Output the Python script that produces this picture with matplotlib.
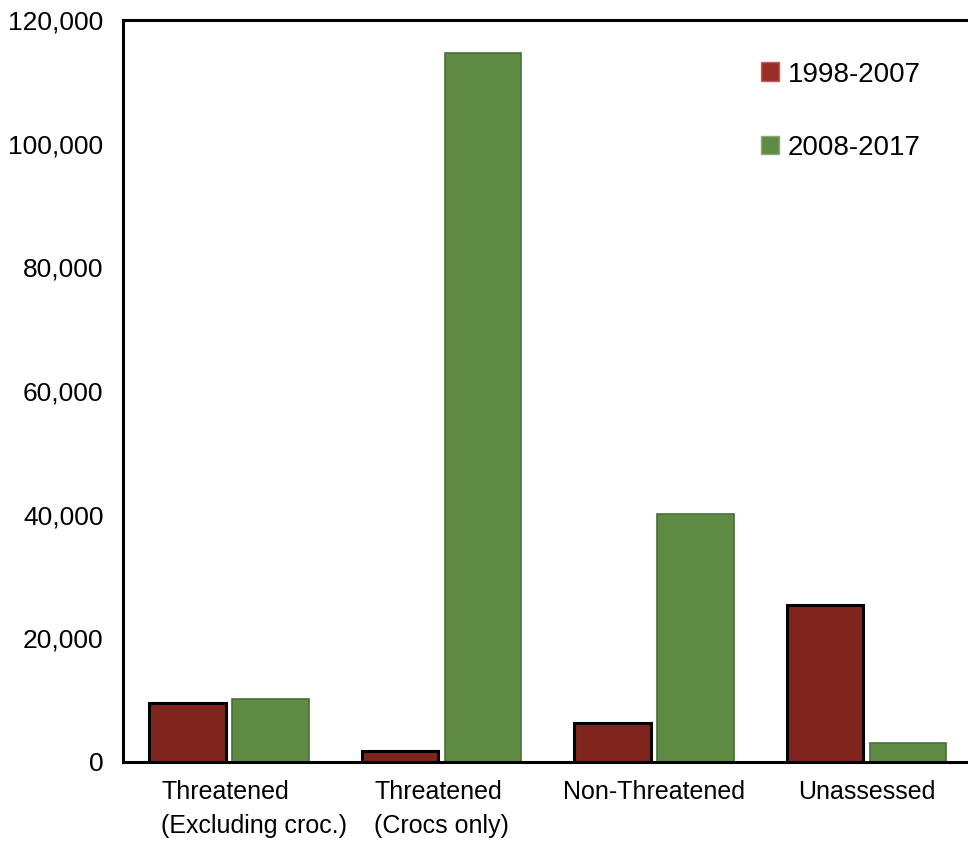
import numpy as np
import matplotlib
matplotlib.use("Agg")
import matplotlib.pyplot as plt
from matplotlib.patches import Patch
from matplotlib.transforms import ScaledTranslation

# import counts per category, two decades
categories = ["Threatened\n(Excluding croc.)", "Threatened\n(Crocs only)",
              "Non-Threatened", "Unassessed"]
period_a = [9500, 1800, 6350, 25400]
period_b = [10200, 114700, 40100, 3100]
labels = ["1998-2007", "2008-2017"]
yticks = [0, 20000, 40000, 60000, 80000, 100000, 120000]

red = "#80241e"
green = "#5f8b45"

plt.rcParams["font.family"] = ["Liberation Sans", "DejaVu Sans"]

fig = plt.figure(figsize=(9.68, 8.41), dpi=100)
ax = fig.add_axes([0.127, 0.094, 0.878, 0.882])

x = np.arange(len(categories))
w = 0.36
off = 0.195
ax.bar(x - off, period_a, w, color=red, edgecolor="black", linewidth=2.2)
ax.bar(x + off, period_b, w, color=green, edgecolor="#4a6e36", linewidth=1.2)

ax.set_xlim(-0.5, len(categories) - 0.5)
ax.set_ylim(0, 120000)
ax.set_yticks(yticks)
ax.set_yticklabels([f"{v:,}" for v in yticks], fontsize=19)
ax.set_xticks(x)
xlabels = ax.set_xticklabels(categories, fontsize=18, linespacing=1.5,
                             multialignment="left")
ax.tick_params(axis="both", length=0)
ax.tick_params(axis="y", pad=14)
ax.tick_params(axis="x", pad=13)

# first label sits a little right of its group
xlabels[0].set_transform(xlabels[0].get_transform()
                         + ScaledTranslation(0.25, 0, fig.dpi_scale_trans))

for s in ax.spines.values():
    s.set_linewidth(2.2)
    s.set_color("black")

handles = [Patch(facecolor="#9a2e26", edgecolor="#c0605a", linewidth=1),
           Patch(facecolor="#5f8b45", edgecolor="#8aa878", linewidth=1)]
ax.legend(handles, labels, loc="upper right", bbox_to_anchor=(0.968, 0.978),
          frameon=False, fontsize=20, handlelength=0.65, handleheight=0.65,
          handletextpad=0.3, labelspacing=1.7)

fig.savefig("out.png", dpi=100)
